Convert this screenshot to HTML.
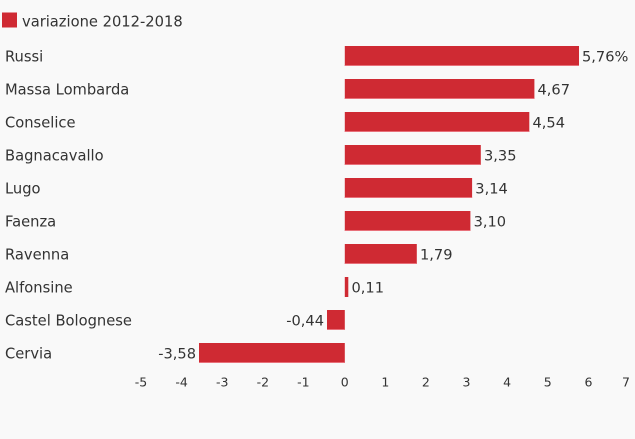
<!DOCTYPE html>
<html><head><meta charset="utf-8"><style>
html,body{margin:0;padding:0;background:#f9f9f9;}
svg{display:block;}
text{font-family:"DejaVu Sans","Liberation Sans",sans-serif;fill:#333;}
</style></head><body>
<svg width="635" height="439" viewBox="0 0 635 439" xmlns="http://www.w3.org/2000/svg">
<rect width="635" height="439" fill="#f9f9f9"/>
<rect x="2" y="12.5" width="15" height="15" fill="#cf2a33"/>
<text x="22" y="26.7" font-size="14.7">variazione 2012-2018</text>
<g font-size="14.7">
<text x="5" y="61.7">Russi</text>
<text x="5" y="94.7">Massa Lombarda</text>
<text x="5" y="127.7">Conselice</text>
<text x="5" y="160.7">Bagnacavallo</text>
<text x="5" y="193.7">Lugo</text>
<text x="5" y="226.7">Faenza</text>
<text x="5" y="259.7">Ravenna</text>
<text x="5" y="292.7">Alfonsine</text>
<text x="5" y="325.7">Castel Bolognese</text>
<text x="5" y="358.7">Cervia</text>
</g>
<g fill="#cf2a33">
<rect x="344.8" y="46" width="234.2" height="20"/>
<rect x="344.8" y="79" width="189.6" height="20"/>
<rect x="344.8" y="112" width="184.5" height="20"/>
<rect x="344.8" y="145" width="136" height="20"/>
<rect x="344.8" y="178" width="127.3" height="20"/>
<rect x="344.8" y="211" width="125.6" height="20"/>
<rect x="344.8" y="244" width="72" height="20"/>
<rect x="344.8" y="277" width="3.5" height="20"/>
<rect x="327" y="310" width="17.8" height="20"/>
<rect x="199" y="343" width="145.8" height="20"/>
</g>
<g fill="none" stroke="#e8707a" stroke-width="1">
<line x1="344.8" y1="65.5" x2="579" y2="65.5"/>
<line x1="344.8" y1="98.5" x2="534.4" y2="98.5"/>
<line x1="344.8" y1="131.5" x2="529.3" y2="131.5"/>
<line x1="344.8" y1="164.5" x2="480.8" y2="164.5"/>
<line x1="344.8" y1="197.5" x2="472.1" y2="197.5"/>
<line x1="344.8" y1="230.5" x2="470.4" y2="230.5"/>
<line x1="344.8" y1="263.5" x2="416.8" y2="263.5"/>
<line x1="327" y1="329.5" x2="344.8" y2="329.5"/>
<line x1="199" y1="362.5" x2="344.8" y2="362.5"/>
</g>
<g font-size="14.6">
<text x="582" y="61.7">5,76%</text>
<text x="537.5" y="94.7">4,67</text>
<text x="532.5" y="127.7">4,54</text>
<text x="484" y="160.7">3,35</text>
<text x="475.3" y="193.7">3,14</text>
<text x="473.6" y="226.7">3,10</text>
<text x="420" y="259.7">1,79</text>
<text x="351.5" y="292.7">0,11</text>
<text x="324" y="325.7" text-anchor="end">-0,44</text>
<text x="196" y="358.7" text-anchor="end">-3,58</text>
</g>
<g font-size="12.5" text-anchor="middle">
<text x="141" y="386.5">-5</text>
<text x="181.6" y="386.5">-4</text>
<text x="222.2" y="386.5">-3</text>
<text x="262.8" y="386.5">-2</text>
<text x="303.4" y="386.5">-1</text>
<text x="344.7" y="386.5">0</text>
<text x="385.3" y="386.5">1</text>
<text x="425.9" y="386.5">2</text>
<text x="466.5" y="386.5">3</text>
<text x="507.1" y="386.5">4</text>
<text x="547.7" y="386.5">5</text>
<text x="588.5" y="386.5">6</text>
<text x="626" y="386.5">7</text>
</g>
</svg>
</body></html>
